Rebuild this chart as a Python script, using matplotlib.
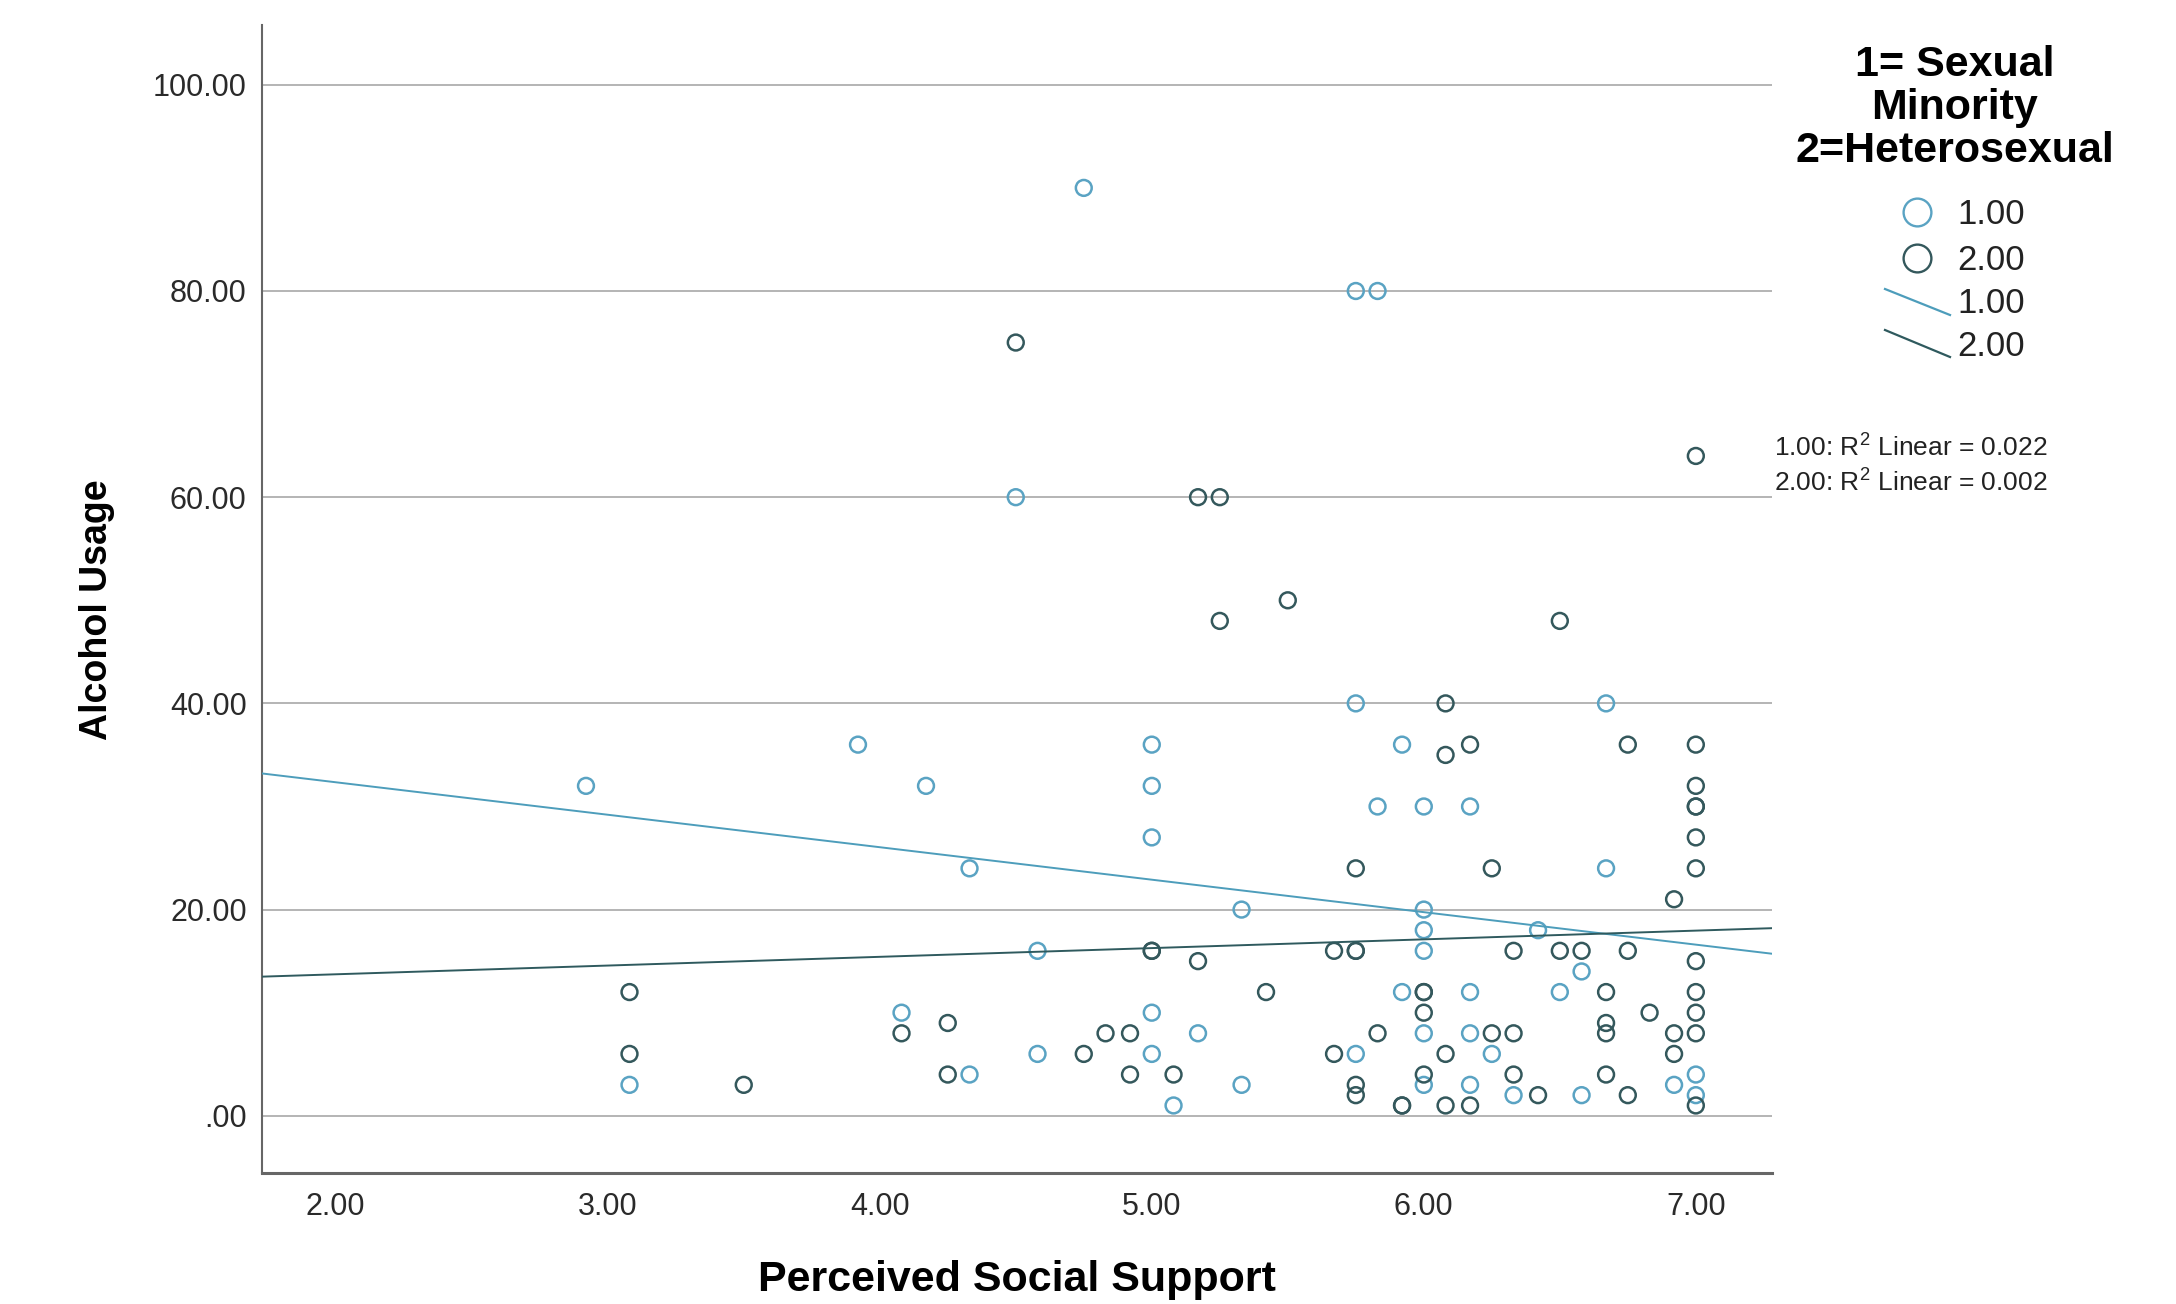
import numpy as np
import matplotlib
matplotlib.use('Agg')
import matplotlib.pyplot as plt
from matplotlib.lines import Line2D

plt.rcParams['font.family'] = ['Liberation Sans', 'DejaVu Sans']
plt.rcParams['mathtext.fontset'] = 'custom'
plt.rcParams['mathtext.rm'] = 'Liberation Sans'
plt.rcParams['mathtext.it'] = 'Liberation Sans:italic'

# group 1 = sexual minority (light blue)
g1_x = [4.75, 5.75, 5.83, 4.50, 2.92, 3.92, 4.17, 4.33, 5.00, 5.00, 5.00, 5.33,
        4.58, 4.08, 5.00, 5.17, 4.58, 5.00, 4.33, 3.08, 5.33, 5.08,
        5.75, 6.67, 5.92, 5.83, 6.00, 6.17, 6.67, 6.00, 6.00, 6.42, 6.00,
        6.58, 5.92, 6.17, 6.50, 6.00, 6.17, 5.75, 6.25, 7.00, 6.00, 6.17,
        6.92, 6.33, 6.58, 7.00]
g1_y = [90, 80, 80, 60, 32, 36, 32, 24, 36, 32, 27, 20,
        16, 10, 10, 8, 6, 6, 4, 3, 3, 1,
        40, 40, 36, 30, 30, 30, 24, 20, 18, 18, 16,
        14, 12, 12, 12, 8, 8, 6, 6, 4, 3, 3,
        3, 2, 2, 2]

# group 2 = heterosexual (dark teal)
g2_x = [4.50, 5.17, 5.25, 7.00, 5.25, 5.50, 6.50, 6.08, 6.17, 6.75, 7.00, 6.08,
        7.00, 7.00, 7.00, 7.00, 5.75, 6.25, 7.00, 6.92,
        5.00, 5.00, 5.67, 5.75, 5.75, 6.33, 6.50, 6.58, 6.75, 5.17, 7.00,
        3.08, 5.42, 6.00, 6.00, 6.67, 7.00, 6.00, 6.83, 7.00, 4.25, 6.67,
        4.08, 4.83, 4.92, 5.83, 6.25, 6.33, 6.67, 6.92, 7.00,
        3.08, 4.75, 5.67, 6.08, 6.92, 4.25, 4.92, 5.08, 6.00, 6.33, 6.67,
        3.50, 5.75, 5.75, 6.42, 6.75, 5.92, 5.92, 6.08, 6.17, 7.00]
g2_y = [75, 60, 60, 64, 48, 50, 48, 40, 36, 36, 36, 35,
        32, 30, 30, 27, 24, 24, 24, 21,
        16, 16, 16, 16, 16, 16, 16, 16, 16, 15, 15,
        12, 12, 12, 12, 12, 12, 10, 10, 10, 9, 9,
        8, 8, 8, 8, 8, 8, 8, 8, 8,
        6, 6, 6, 6, 6, 4, 4, 4, 4, 4, 4,
        3, 3, 2, 2, 2, 1, 1, 1, 1, 1]

# fit lines (intercept, slope)
fit1 = (38.65, -3.15)
fit2 = (12.03, 0.847)
r2_labels = ['1.00: R$^2$ Linear = 0.022', '2.00: R$^2$ Linear = 0.002']
legend_labels = ['1.00', '2.00', '1.00', '2.00']
legend_title = '1= Sexual\nMinority\n2=Heterosexual'

y_ticks = [0, 20, 40, 60, 80, 100]
y_ticklabels = ['.00', '20.00', '40.00', '60.00', '80.00', '100.00']
x_ticks = [2, 3, 4, 5, 6, 7]
x_ticklabels = ['2.00', '3.00', '4.00', '5.00', '6.00', '7.00']

c_light = '#5aa3c3'
c_dark = '#34585c'
line_light = '#4d9dbb'
line_dark = '#2f5a5e'

W, H = 2176, 1304
fig = plt.figure(figsize=(W / 100, H / 100), dpi=100)
ax = fig.add_axes([262 / W, 1 - 1173 / H, (1772 - 262) / W, (1173 - 25) / H])

ax.set_xlim(1.729, 7.280)
ax.set_ylim(-5.55, 105.8)

ax.set_yticks(y_ticks)
ax.set_yticklabels(y_ticklabels)
ax.set_xticks(x_ticks)
ax.set_xticklabels(x_ticklabels)
ax.tick_params(axis='both', length=0, labelsize=22, colors='#2a2a2a')
ax.tick_params(axis='y', pad=11)
ax.tick_params(axis='x', pad=14)
ax.yaxis.grid(True, color='#b4b4b4', linewidth=1.4)
ax.set_axisbelow(True)

for s in ['top', 'right']:
    ax.spines[s].set_visible(False)
ax.spines['left'].set_color('#666666')
ax.spines['left'].set_linewidth(1.5)
ax.spines['bottom'].set_color('#666666')
ax.spines['bottom'].set_linewidth(2.2)

ax.scatter(g1_x, g1_y, s=130, facecolors='none', edgecolors=c_light, linewidths=1.8, zorder=3)
ax.scatter(g2_x, g2_y, s=130, facecolors='none', edgecolors=c_dark, linewidths=1.8, zorder=3)

xx = np.array(ax.get_xlim())
ax.plot(xx, fit1[0] + fit1[1] * xx, color=line_light, linewidth=1.4, zorder=4)
ax.plot(xx, fit2[0] + fit2[1] * xx, color=line_dark, linewidth=1.4, zorder=4)

ax.set_xlabel('Perceived Social Support', fontsize=31, fontweight='bold', va='center')
ax.set_ylabel('Alcohol Usage', fontsize=27, fontweight='bold', va='center')
ax.xaxis.set_label_coords((1017 - 262) / (1772 - 262), (1173 - 1280) / (1173 - 25))
ax.yaxis.set_label_coords((97 - 262) / (1772 - 262), (1173 - 610) / (1173 - 25))

# legend drawn by hand in pixel positions
def fx(p):
    return p / W

def fy(p):
    return 1 - p / H

fig.text(fx(1955), fy(108), legend_title, ha='center', va='center', fontsize=31,
         fontweight='bold', linespacing=1.1)
fig.add_artist(Line2D([fx(1917)], [fy(212)], marker='o', markersize=20, markerfacecolor='none',
                      markeredgecolor=c_light, markeredgewidth=1.7, linestyle='none'))
fig.add_artist(Line2D([fx(1917)], [fy(258)], marker='o', markersize=20, markerfacecolor='none',
                      markeredgecolor=c_dark, markeredgewidth=1.7, linestyle='none'))
fig.add_artist(Line2D([fx(1885), fx(1950)], [fy(289), fy(315)], color=line_light, linewidth=1.6))
fig.add_artist(Line2D([fx(1885), fx(1950)], [fy(330), fy(357)], color=line_dark, linewidth=1.6))
for lab, yp in zip(legend_labels, [215, 260, 303, 346]):
    fig.text(fx(1957), fy(yp), lab, ha='left', va='center', fontsize=25, color='#222222')

for lab, yp in zip(r2_labels, [448, 483]):
    fig.text(fx(1774), fy(yp), lab, ha='left', va='center', fontsize=19, color='#222222')

fig.savefig('out.png', dpi=100)
